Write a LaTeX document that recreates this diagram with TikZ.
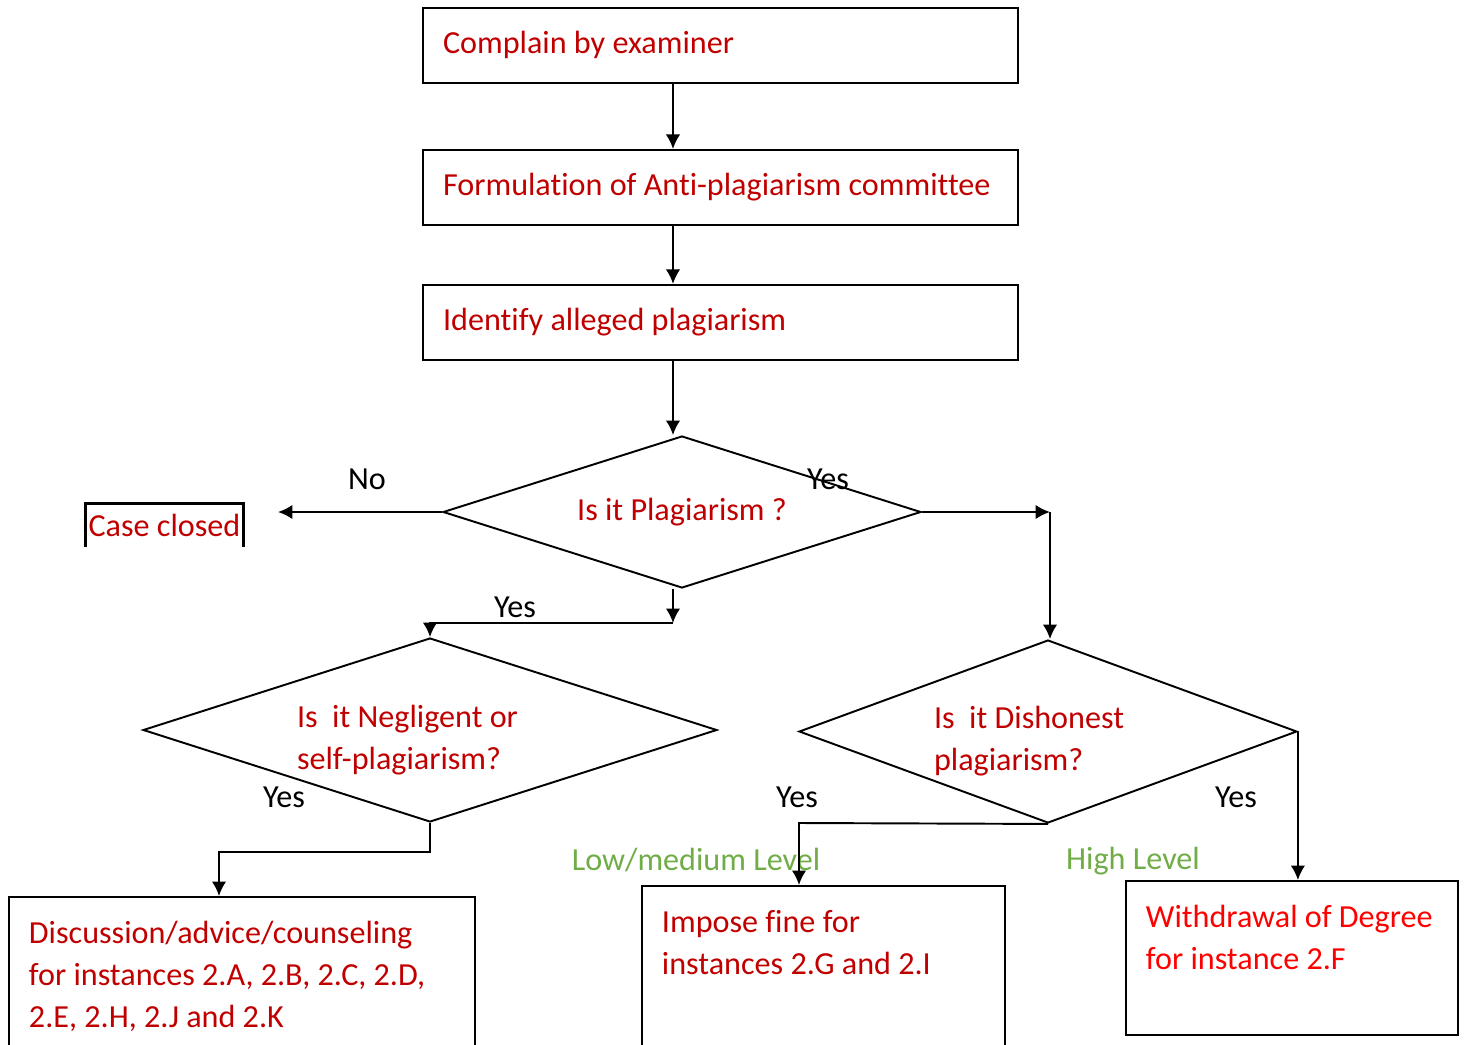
\documentclass[tikz,border=0pt]{standalone}
\usepackage{fontspec}
\setmainfont[Ligatures=CommonOff]{Carlito}
\usetikzlibrary{positioning}
\usetikzlibrary{shapes.geometric}
\usetikzlibrary{arrows.meta}
\definecolor{Word-red}{RGB}{192,0,0}
\definecolor{Word-brightred}{RGB}{255,0,0}
\definecolor{Word-green}{RGB}{112,173,71}
\newcommand{\flowfont}{\fontsize{18.3}{23.8}\selectfont}

\begin{document}
\begin{tikzpicture}[x=0.02cm, y=-0.02cm, font=\flowfont, line width=1.1pt, >={Latex[length=0.29cm, width=0.29cm]}]
    \tikzset{ box/.style={draw=black, text=Word-red, align=flush left, text width=11.1cm, inner xsep=0.4cm, minimum height=1.5cm, text height=1.1em, text depth=0.2em} }
    \tikzset{ tallbox/.style={draw=black, text=Word-red, anchor=north west, inner xsep=0.4cm, inner ysep=0.35cm} }
    \tikzset{ decision/.style={draw=black, diamond, inner sep=0pt, text=Word-red, align=flush left} }
    \tikzset{ closedbox/.style={text=Word-red, inner xsep=1pt, minimum width=3.14cm, minimum height=0.84cm} }
    \tikzset{ answer/.style={text=black} }
    \tikzset{ levellabel/.style={text=Word-green} }

    \useasboundingbox (0,0) rectangle (1465,1045);
    \clip (0,0) rectangle (1465,1045);

    \node[box]                            (complain)  at (720.5, 45.5) {Complain by examiner};
    \node[box, below=1.30cm of complain]  (committee)                {Formulation of Anti-plagiarism committee};
    \node[box, below=1.16cm of committee] (identify)                 {Identify alleged plagiarism};

    \node[decision, minimum width=9.56cm,  minimum height=3.04cm, aspect=3.14] (isplag) at (682, 512)    {Is it Plagiarism ?};
    \node[decision, minimum width=11.48cm, minimum height=3.68cm, aspect=3.12] (isneg)  at (430, 730)    {\parbox{5.32cm}{\raggedright\vspace*{0.4cm}Is\ \ it Negligent or\\self-plagiarism?}};
    \node[decision, minimum width=9.96cm,  minimum height=3.66cm, aspect=2.72] (isdis)  at (1048, 731.5) {\parbox{4.56cm}{\raggedright\vspace*{0.4cm}Is\ \ it Dishonest\\plagiarism?}};

    \node[closedbox] (closed) at (164.5, 525) {Case closed};
    \draw[line width=1.7pt] (closed.south west) -- (closed.north west) -- (closed.north east) -- (closed.south east);

    \node[tallbox]                      (advice) at (8, 896)    {\parbox[t][3.5cm][t]{8.52cm}{\raggedright\strut Discussion/advice/counseling\\for instances 2.A, 2.B, 2.C, 2.D,\\2.E, 2.H, 2.J and 2.K}};
    \node[tallbox]                      (fine)   at (641, 885)  {\parbox[t][3.5cm][t]{6.46cm}{\raggedright\strut Impose fine for\\instances 2.G and 2.I}};
    \node[tallbox, text=Word-brightred] (degree) at (1125, 880) {\parbox[t][2.38cm][t]{5.84cm}{\raggedright\strut Withdrawal of Degree\\for instance 2.F}};

    \node[answer] (no)      at (367, 479)  {No};
    \node[answer] (yesplag) at (828, 479)  {Yes};
    \node[answer] (yesdown) at (515, 607)  {Yes};
    \node[answer] (yesneg)  at (284, 797)  {Yes};
    \node[answer] (yeslow)  at (797, 797)  {Yes};
    \node[answer] (yeshigh) at (1236, 797) {Yes};
    \node[levellabel] (low)  at (696, 860)  {Low/medium Level};
    \node[levellabel] (high) at (1133, 861) {High Level};

    \coordinate (axis)     at (673, 0);
    \coordinate (noend)    at (278, 512);
    \coordinate (yesright) at (1050, 512);
    \coordinate (yesleft)  at (673, 623);
    \coordinate (negknee)  at (219, 852);
    \coordinate (disknee)  at (799, 823);

    \draw[->] (complain.south -| axis)  -- (committee.north -| axis);
    \draw[->] (committee.south -| axis) -- (identify.north -| axis);
    \draw[->] (identify.south -| axis)  -- (isplag.north -| axis);

    \draw[->] (isplag.west) -- (noend);
    \draw[->] (isplag.east) -- (yesright);
    \draw[->] (yesright)    -- (yesright |- isdis.north);
    \draw[->] (axis |- isplag.south) -- (yesleft);
    \draw[->] (yesleft)     -| (isneg.north);

    \draw[->] (isneg.south) |- (negknee) -- (negknee |- advice.north);
    \draw[->] (isdis.south) -- (disknee) -- (disknee |- fine.north);
    \draw[->] (isdis.east)  -- (isdis.east |- degree.north);
\end{tikzpicture}
\end{document}
